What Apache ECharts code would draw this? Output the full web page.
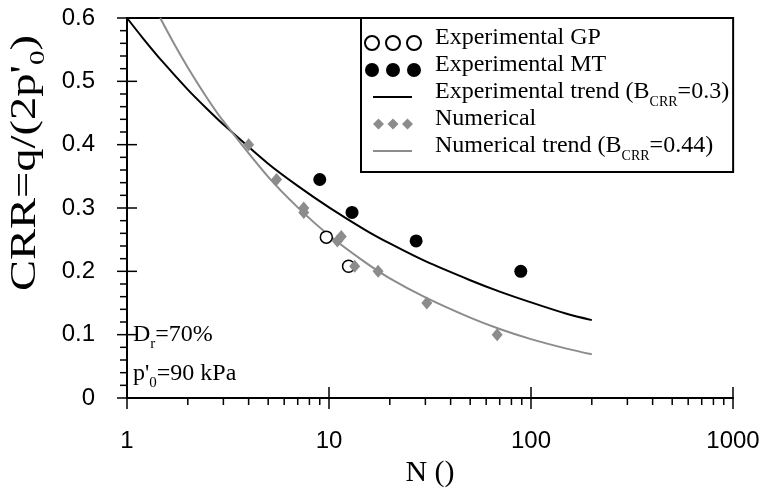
<!DOCTYPE html>
<html>
<head>
<meta charset="utf-8">
<script src="https://cdn.jsdelivr.net/npm/echarts@6/dist/echarts.min.js"></script>
<style>html,body{margin:0;padding:0;background:#fff}#c{width:765px;height:493px}</style>
</head>
<body>
<div id="c"></div>
<script>
// ---- data ----
const gpN = [9.7, 12.5];
const gpCRR = [0.254, 0.208];
const mtN = [9, 13, 27, 89];
const mtCRR = [0.345, 0.293, 0.248, 0.200];
const numN = [4, 5.5, 7.5, 7.5, 11, 11.5, 13.4, 17.5, 30.5, 68];
const numCRR = [0.400, 0.345, 0.300, 0.293, 0.248, 0.255, 0.208, 0.200, 0.150, 0.100];
const expTrendN = [1, 1.2, 1.5, 2, 2.5, 3, 5, 7, 10, 15, 20, 30, 50, 70, 100, 150, 200];
const expTrendCRR = [0.600, 0.568, 0.531, 0.487, 0.456, 0.432, 0.370, 0.335, 0.301, 0.266, 0.244, 0.216, 0.186, 0.168, 0.151, 0.133, 0.123];
const numTrendN = [1.46, 1.7, 2, 2.5, 3, 5, 7, 10, 15, 20, 30, 50, 70, 100, 150, 200];
const numTrendCRR = [0.600, 0.561, 0.522, 0.473, 0.437, 0.349, 0.301, 0.257, 0.215, 0.189, 0.159, 0.127, 0.109, 0.093, 0.078, 0.069];
const xMajorTicks = [1, 10, 100, 1000];
const xMinorTicks = [2, 3, 4, 5, 6, 7, 8, 9, 20, 30, 40, 50, 60, 70, 80, 90, 200, 300, 400, 500, 600, 700, 800, 900];
const yMajorTicks = [0, 0.1, 0.2, 0.3, 0.4, 0.5, 0.6];
const yMinorTicks = [0.02, 0.04, 0.06, 0.08, 0.12, 0.14, 0.16, 0.18, 0.22, 0.24, 0.26, 0.28, 0.32, 0.34, 0.36, 0.38, 0.42, 0.44, 0.46, 0.48, 0.52, 0.54, 0.56, 0.58];
const legendNames = ['Experimental GP', 'Experimental MT', 'Experimental trend', 'Numerical', 'Numerical trend'];

const zip = (a, b) => a.map((v, i) => [v, b[i]]);
const SERIF = 'Liberation Serif, Times New Roman, serif';
const SANS = 'Liberation Sans, Arial, sans-serif';
const GREY = '#8c8c8c';

const tickData = []
  .concat(xMajorTicks.map(v => [v, 0, 0]))
  .concat(xMinorTicks.map(v => [v, 0, 1]))
  .concat(yMajorTicks.map(v => [1, v, 2]))
  .concat(yMinorTicks.map(v => [1, v, 3]));

// legend icons (58 x 16 box)
const B = 'M0,0M58,16';
const circ = c => `M${c - 7},8a7,7 0 1,0 14,0a7,7 0 1,0 -14,0`;
const dia = c => `M${c},2.5L${c + 5.5},8L${c},13.5L${c - 5.5},8Z`;
const iconCircles = 'path://' + B + circ(8) + circ(29) + circ(50);
const iconDiamonds = 'path://' + B + dia(14.5) + dia(29) + dia(43.5);
const iconLine = 'path://' + B + 'M9,7L48,7L48,9L9,9Z';

// rich styles: main text padded top/bottom, subscript bottom-aligned so it drops below the baseline
const mkRich = (fs, subFs, pad, key) => ({
  m: { fontFamily: SERIF, fontSize: fs, lineHeight: fs, padding: [pad, 0, pad, 0], verticalAlign: 'bottom', [key]: '#000' },
  sub: { fontFamily: SERIF, fontSize: subFs, lineHeight: subFs - 1, verticalAlign: 'bottom', [key]: '#000' }
});

const chart = echarts.init(document.getElementById('c'), null, { renderer: 'canvas' });
chart.setOption({
  animation: false,
  backgroundColor: '#fff',
  grid: { left: 127, right: 32, top: 18, bottom: 95, containLabel: false },
  xAxis: [{
    type: 'log', logBase: 10, min: 1, max: 1000, position: 'bottom',
    axisLine: { show: true, lineStyle: { color: '#000', width: 2 } },
    axisTick: { show: false },
    splitLine: { show: false },
    axisLabel: { fontFamily: SANS, fontSize: 24, color: '#000', margin: 31, formatter: v => String(v) },
    name: 'N ()', nameLocation: 'middle', nameGap: 54,
    nameTextStyle: { fontFamily: SERIF, fontSize: 30, color: '#000' }
  }, {
    type: 'log', logBase: 10, min: 1, max: 1000, position: 'top',
    axisLine: { show: true, lineStyle: { color: '#000', width: 2 } },
    axisTick: { show: false }, axisLabel: { show: false }, splitLine: { show: false }
  }],
  yAxis: [{
    type: 'value', min: 0, max: 0.6, interval: 0.1,
    axisLine: { show: true, lineStyle: { color: '#000', width: 2 } },
    axisTick: { show: false },
    splitLine: { show: false },
    axisLabel: { fontFamily: SANS, fontSize: 24, color: '#000', margin: 32 }
  }],
  legend: {
    orient: 'vertical', left: 361, top: 18,
    padding: [3, 4, 9, 2], itemGap: -7, itemWidth: 58, itemHeight: 16,
    borderColor: '#000', borderWidth: 2, backgroundColor: '#fff',
    selectedMode: false,
    textStyle: {
      fontFamily: SERIF, fontSize: 24, color: '#000', padding: [0, 0, 0, 8],
      rich: mkRich(24, 14, 5, 'color')
    },
    formatter: n => n === 'Experimental trend' ? '{m|Experimental trend (B}{sub|CRR}{m|=0.3)}'
      : n === 'Numerical trend' ? '{m|Numerical trend (B}{sub|CRR}{m|=0.44)}' : '{m|' + n + '}',
    data: [
      { name: legendNames[0], icon: iconCircles },
      { name: legendNames[1], icon: iconCircles },
      { name: legendNames[2], icon: iconLine, itemStyle: { borderWidth: 0 } },
      { name: legendNames[3], icon: iconDiamonds, itemStyle: { borderWidth: 0 } },
      { name: legendNames[4], icon: iconLine, itemStyle: { borderWidth: 0 } }
    ]
  },
  graphic: [
    {
      type: 'text', x: 32, y: 163, rotation: Math.PI / 2, scaleX: 1.33,
      style: {
        text: "{m|CRR=q/(2p'}{sub|0}{m|)}", fill: '#000',
        align: 'center', verticalAlign: 'middle',
        rich: mkRich(35, 22, 6, 'fill')
      }
    },
    {
      type: 'text', left: 133, top: 318,
      style: { text: '{m|D}{sub|r}{m|=70%}', fill: '#000', rich: mkRich(24, 15, 5, 'fill') }
    },
    {
      type: 'text', left: 133, top: 357,
      style: { text: "{m|p'}{sub|0}{m|=90 kPa}", fill: '#000', rich: mkRich(24, 15, 5, 'fill') }
    }
  ],
  series: [
    {
      name: legendNames[2], type: 'line', data: zip(expTrendN, expTrendCRR), smooth: 0.3,
      showSymbol: false, symbol: 'none', lineStyle: { color: '#000', width: 2 }, itemStyle: { color: '#000' }, z: 2
    },
    {
      name: legendNames[4], type: 'line', data: zip(numTrendN, numTrendCRR), smooth: 0.3,
      showSymbol: false, symbol: 'none', lineStyle: { color: GREY, width: 2 }, itemStyle: { color: GREY }, z: 2
    },
    {
      name: legendNames[0], type: 'scatter', data: zip(gpN, gpCRR), symbol: 'circle', symbolSize: 12,
      itemStyle: { color: '#fff', borderColor: '#000', borderWidth: 1.5, opacity: 1 }, z: 3
    },
    {
      name: legendNames[1], type: 'scatter', data: zip(mtN, mtCRR), symbol: 'circle', symbolSize: 13,
      itemStyle: { color: '#000', opacity: 1 }, z: 3
    },
    {
      name: legendNames[3], type: 'scatter', data: zip(numN, numCRR), symbol: 'diamond', symbolSize: [11, 13],
      itemStyle: { color: GREY, opacity: 1 }, z: 4
    },
    {
      name: 'ticks', type: 'custom', data: tickData, clip: false, silent: true, z: 5,
      renderItem: (params, api) => {
        const k = api.value(2);
        const p = api.coord([api.value(0), api.value(1)]);
        let s;
        if (k === 0) s = { x1: p[0], y1: p[1] - 11, x2: p[0], y2: p[1] + 11 };
        else if (k === 1) s = { x1: p[0], y1: p[1], x2: p[0], y2: p[1] + 7 };
        else if (k === 2) s = { x1: p[0] - 10, y1: p[1], x2: p[0] + 10, y2: p[1] };
        else s = { x1: p[0] - 7, y1: p[1], x2: p[0], y2: p[1] };
        return { type: 'line', shape: s, style: { stroke: '#000', lineWidth: 1.5 } };
      }
    }
  ]
});
</script>
</body>
</html>
